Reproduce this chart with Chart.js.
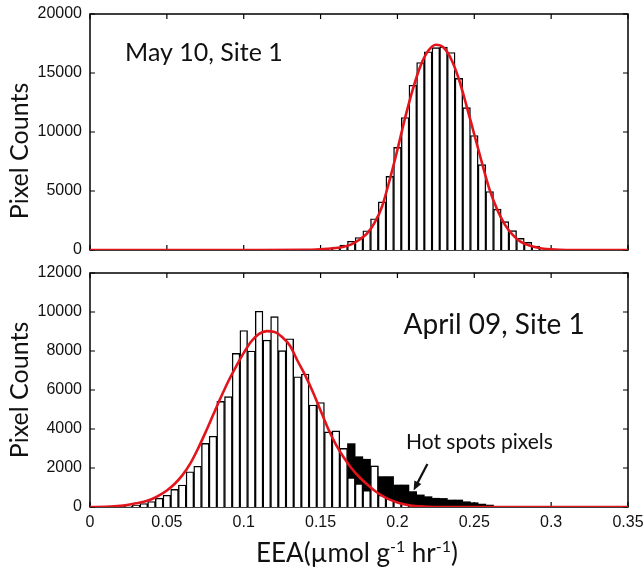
<!DOCTYPE html>
<html>
<head>
<meta charset="utf-8">
<script src="https://cdn.jsdelivr.net/npm/chart.js@4.4.0/dist/chart.umd.min.js"></script>
<style>
html,body{margin:0;padding:0;background:#fff;}
#wrap{position:relative;width:644px;height:575px;}
.panel{position:absolute;left:0;width:644px;}
#topBox{top:0;height:262px;}
#botBox{top:262px;height:313px;}
</style>
</head>
<body>
<div id="wrap">
  <div class="panel" id="topBox"><canvas id="mayChart"></canvas></div>
  <div class="panel" id="botBox"><canvas id="aprChart"></canvas></div>
</div>
<script>
// x axis (EEA, umol g-1 hr-1)
const xTicks = [0,0.05,0.1,0.15,0.2,0.25,0.3,0.35];
const mayYTicks = [0,5000,10000,15000,20000];
const aprYTicks = [0,2000,4000,6000,8000,10000,12000];

// May 10, Site 1 - histogram (bin centres) and normal fit
const mayBins   = [0.155,0.16,0.165,0.17,0.175,0.18,0.185,0.19,0.195,0.2,0.205,0.21,0.215,0.22,0.225,0.23,0.235,0.24,0.245,0.25,0.255,0.26,0.265,0.27,0.275,0.28,0.285,0.29,0.295,0.3];
const mayCounts = [120,250,420,740,1060,1630,2650,4080,6240,8700,11230,13960,15890,16800,17150,17200,16740,14550,12060,9700,7230,4960,3460,2410,1640,990,650,340,120,40];
const mayFitX = [0,0.05,0.1,0.14,0.15,0.155,0.16,0.165,0.17,0.175,0.18,0.185,0.19,0.195,0.2,0.205,0.21,0.215,0.22,0.225,0.23,0.235,0.24,0.245,0.25,0.255,0.26,0.265,0.27,0.275,0.28,0.285,0.29,0.295,0.3,0.31,0.35];
const mayFitY = [0,0,0,10,60,110,170,280,480,850,1360,2270,3690,5960,8500,11200,13620,15600,16880,17400,17160,16170,14470,12200,9790,7380,5100,3400,2130,1280,710,425,230,110,50,0,0];

// April 09, Site 1 - histogram, hot spot pixels and normal fit
const aprBins   = [0.02,0.025,0.03,0.035,0.04,0.045,0.05,0.055,0.06,0.065,0.07,0.075,0.08,0.085,0.09,0.095,0.1,0.105,0.11,0.115,0.12,0.125,0.13,0.135,0.14,0.145,0.15,0.155,0.16,0.165,0.17,0.175,0.18,0.185,0.19,0.195,0.2,0.205,0.21,0.215,0.22];
const aprCounts = [20,50,100,180,280,450,600,900,1130,1810,2090,3260,3630,5420,5660,7880,9050,8000,10040,8560,9760,8020,8630,6680,6820,5230,5360,3850,3900,3010,1500,1200,850,2100,600,420,300,200,120,60,30];
const hotBins   = [0.17,0.175,0.18,0.185,0.19,0.195,0.2,0.205,0.21,0.215,0.22,0.225,0.23,0.235,0.24,0.245,0.25,0.255,0.26,0.265];
const hotCounts = [3250,2580,2450,2100,1560,1560,1130,1130,790,620,530,450,440,360,360,270,220,150,100,20];
const aprFitX = [0,0.01,0.02,0.025,0.03,0.035,0.04,0.045,0.05,0.055,0.06,0.065,0.07,0.075,0.08,0.085,0.09,0.095,0.1,0.105,0.11,0.115,0.12,0.125,0.13,0.135,0.14,0.145,0.15,0.155,0.16,0.165,0.17,0.175,0.18,0.185,0.19,0.195,0.2,0.205,0.21,0.215,0.22,0.23,0.25,0.35];
const aprFitY = [0,10,60,120,190,270,400,600,850,1180,1620,2200,2950,3800,4700,5600,6450,7200,7900,8500,8880,9020,8980,8720,8280,7500,6750,5900,4950,4000,3200,2550,2000,1550,1180,850,580,380,230,130,60,30,10,0,0,0];

const TXT = 'Lato, "Open Sans", sans-serif';
const TICK = '"Liberation Sans", Arial, sans-serif';
const RED = '#e2141c';

const pts = (xs, ys) => xs.map((x, i) => ({x, y: ys[i]}));

// box + inward ticks (matlab look), then panel texts
const deco = {
  id: 'deco',
  beforeDatasetsDraw(chart) {
    const {ctx, chartArea: a, scales: {x, y}} = chart;
    ctx.save();
    ctx.strokeStyle = '#000';
    ctx.lineWidth = 1.5;
    ctx.strokeRect(a.left, a.top, a.width, a.height);
    ctx.beginPath();
    x.ticks.forEach(t => {
      const px = x.getPixelForValue(t.value);
      ctx.moveTo(px, a.bottom); ctx.lineTo(px, a.bottom - 5);
      ctx.moveTo(px, a.top); ctx.lineTo(px, a.top + 5);
    });
    y.ticks.forEach(t => {
      const py = y.getPixelForValue(t.value);
      ctx.moveTo(a.left, py); ctx.lineTo(a.left + 5, py);
      ctx.moveTo(a.right, py); ctx.lineTo(a.right - 5, py);
    });
    ctx.lineWidth = 1.2;
    ctx.stroke();
    ctx.restore();
  },
  afterDatasetsDraw(chart, args, o) {
    const {ctx, scales: {x, y}} = chart;
    ctx.save();
    ctx.fillStyle = '#111';
    ctx.textBaseline = 'middle';
    // y title
    ctx.save();
    ctx.translate(o.yTitle[0], o.yTitle[1]);
    ctx.rotate(-Math.PI / 2);
    ctx.font = '25px ' + TXT;
    ctx.textAlign = 'center';
    ctx.fillText('Pixel Counts', 0, 0);
    ctx.restore();
    // panel label
    ctx.font = o.labelSize + 'px ' + TXT;
    ctx.textAlign = 'left';
    ctx.fillText(o.label, x.getPixelForValue(o.labelAt[0]), y.getPixelForValue(o.labelAt[1]));
    // hot spot note + arrow
    if (o.note) {
      ctx.font = '21px ' + TXT;
      ctx.fillText(o.note, x.getPixelForValue(o.noteAt[0]), y.getPixelForValue(o.noteAt[1]));
      const x0 = x.getPixelForValue(o.arrow[0]), y0 = y.getPixelForValue(o.arrow[1]);
      const x1 = x.getPixelForValue(o.arrow[2]), y1 = y.getPixelForValue(o.arrow[3]);
      const ang = Math.atan2(y1 - y0, x1 - x0);
      ctx.strokeStyle = '#111';
      ctx.lineWidth = 2.2;
      ctx.beginPath(); ctx.moveTo(x0, y0); ctx.lineTo(x1 - 6 * Math.cos(ang), y1 - 6 * Math.sin(ang)); ctx.stroke();
      ctx.beginPath();
      ctx.moveTo(x1, y1);
      ctx.lineTo(x1 - 10 * Math.cos(ang - 0.4), y1 - 10 * Math.sin(ang - 0.4));
      ctx.lineTo(x1 - 10 * Math.cos(ang + 0.4), y1 - 10 * Math.sin(ang + 0.4));
      ctx.closePath(); ctx.fill();
    }
    // x title with superscripts
    if (o.xTitle) {
      const parts = [['EEA(\u00b5mol g', 0], ['-1', 1], [' hr', 0], ['-1', 1], [')', 0]];
      const big = '26px ' + TXT, small = '16px ' + TXT;
      let w = 0;
      parts.forEach(p => { ctx.font = p[1] ? small : big; w += ctx.measureText(p[0]).width; });
      let cx = o.xTitle[0] - w / 2;
      ctx.textAlign = 'left';
      ctx.textBaseline = 'alphabetic';
      parts.forEach(p => {
        ctx.font = p[1] ? small : big;
        ctx.fillText(p[0], cx, o.xTitle[1] - (p[1] ? 10 : 0));
        cx += ctx.measureText(p[0]).width;
      });
    }
    ctx.restore();
  }
};

function xScale(showLabels, h) {
  return {
    type: 'linear', min: 0, max: 0.35, offset: false,
    afterBuildTicks: s => { s.ticks = xTicks.map(v => ({value: v})); },
    afterFit: s => { s.height = h; },
    grid: {display: false, drawTicks: false},
    border: {display: false},
    ticks: {display: showLabels, padding: 0, color: '#111', font: {family: TICK, size: 16, lineHeight: 2},
            maxRotation: 0, callback: v => String(v)}
  };
}
function yScale(ticks) {
  return {
    min: ticks[0], max: ticks[ticks.length - 1],
    afterBuildTicks: s => { s.ticks = ticks.map(v => ({value: v})); },
    afterFit: s => { s.width = 90; },
    grid: {display: false, drawTicks: false},
    border: {display: false},
    ticks: {padding: 8, color: '#111', font: {family: TICK, size: 16, lineHeight: 0.3}, callback: v => String(v)}
  };
}
const barStyle = {
  type: 'bar', grouped: false, barPercentage: 1, categoryPercentage: 1,
  backgroundColor: '#fff', borderColor: '#000', borderWidth: 1.4, borderSkipped: 'bottom'
};
const fitStyle = {
  type: 'line', borderColor: RED, borderWidth: 2.6, pointRadius: 0,
  cubicInterpolationMode: 'monotone', order: 0
};

new Chart(document.getElementById('mayChart'), {
  type: 'bar',
  data: {datasets: [
    Object.assign({}, fitStyle, {data: pts(mayFitX, mayFitY)}),
    Object.assign({}, barStyle, {data: pts(mayBins, mayCounts), order: 1})
  ]},
  options: {
    responsive: true, maintainAspectRatio: false, animation: false,
    layout: {padding: {left: 0, right: 16, top: 14, bottom: 12}},
    plugins: {legend: {display: false}, tooltip: {enabled: false},
      deco: {yTitle: [20, 151], label: 'May 10, Site 1', labelSize: 25, labelAt: [0.0228, 16700]}},
    scales: {x: xScale(false, 0), y: yScale(mayYTicks)}
  },
  plugins: [deco]
});

new Chart(document.getElementById('aprChart'), {
  type: 'bar',
  data: {datasets: [
    Object.assign({}, fitStyle, {data: pts(aprFitX, aprFitY)}),
    Object.assign({}, barStyle, {data: pts(aprBins, aprCounts), order: 1}),
    {type: 'bar', grouped: false, barPercentage: 1, categoryPercentage: 1, order: 2,
     backgroundColor: '#000', borderWidth: 0, data: pts(hotBins, hotCounts)}
  ]},
  options: {
    responsive: true, maintainAspectRatio: false, animation: false,
    layout: {padding: {left: 0, right: 16, top: 11, bottom: 0}},
    plugins: {legend: {display: false}, tooltip: {enabled: false},
      deco: {yTitle: [20, 128], label: 'April 09, Site 1', labelSize: 28, labelAt: [0.204, 9330],
             note: 'Hot spots pixels', noteAt: [0.2056, 3330], arrow: [0.2195, 2200, 0.2105, 850],
             xTitle: [357, 300]}},
    scales: {x: xScale(true, 68), y: yScale(aprYTicks)}
  },
  plugins: [deco]
});
</script>
</body>
</html>
